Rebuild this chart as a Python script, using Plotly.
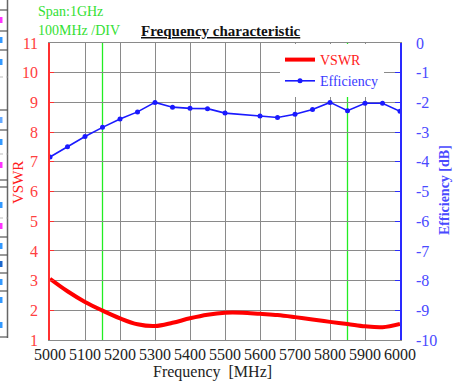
import plotly.graph_objects as go

# ---- data ----
eff_freq = [5000, 5050, 5100, 5150, 5200, 5250, 5300, 5350, 5400, 5450, 5500,
            5600, 5650, 5700, 5750, 5800, 5850, 5900, 5950, 6000]
eff_db = [-3.84, -3.49, -3.15, -2.84, -2.56, -2.32, -2.0, -2.16, -2.2, -2.21, -2.36,
          -2.46, -2.51, -2.40, -2.24, -2.0, -2.28, -2.03, -2.03, -2.3]
vswr_freq = [5000, 5050, 5100, 5150, 5200, 5250, 5300, 5350, 5400, 5450, 5500,
             5550, 5600, 5650, 5700, 5750, 5800, 5850, 5900, 5950, 6000]
vswr = [3.06, 2.64, 2.28, 1.99, 1.73, 1.53, 1.47, 1.58, 1.73, 1.85, 1.92,
        1.92, 1.88, 1.84, 1.77, 1.69, 1.61, 1.54, 1.46, 1.43, 1.54]
marker_freqs = [5150, 5850]
x_ticks = list(range(5000, 6001, 100))
vswr_ticks = list(range(1, 12))
eff_ticks = list(range(-10, 1))

W, H = 465, 385
L, R, T, B = 50, 400, 43, 340


def px(xp):
    return (xp - L) / (R - L)


def py(yp):
    return (B - yp) / (B - T)


SERIF = "Liberation Serif"
RED = "#ff2020"
GREEN = "#33e033"

fig = go.Figure()
fig.add_trace(go.Scatter(
    x=vswr_freq, y=vswr, mode="lines", name="<span style='color:#ff2020'>VSWR</span>",
    line=dict(color="#ff0000", width=4, shape="spline"), yaxis="y"))
fig.add_trace(go.Scatter(
    x=eff_freq, y=eff_db, mode="lines+markers",
    name="<span style='color:#3a3aff'>Efficiency</span>",
    line=dict(color="#1a1aff", width=1.6), marker=dict(size=5, color="#1a1aff"),
    yaxis="y2"))

shapes = []
for f in marker_freqs:
    shapes.append(dict(type="line", xref="x", yref="paper", x0=f, x1=f, y0=0, y1=1,
                       line=dict(color="#22ee22", width=1.3), layer="below"))

# left-edge table fragment
shapes.append(dict(type="line", xref="paper", yref="paper", x0=px(7.5), x1=px(7.5),
                   y0=py(0), y1=py(338), line=dict(color="#666", width=1.5)))
for yl in [10, 31, 50, 110, 130, 180, 187, 237, 255, 273, 291, 337]:
    shapes.append(dict(type="line", xref="paper", yref="paper", x0=px(0), x1=px(7.5),
                       y0=py(yl), y1=py(yl), line=dict(color="#555", width=1.2)))
for yl in [77, 154, 218]:
    shapes.append(dict(type="line", xref="paper", yref="paper", x0=px(0), x1=px(7.5),
                       y0=py(yl), y1=py(yl), line=dict(color="#bbb", width=1, dash="dot")))
frag = [(20, "#ff33ff"), (40, "#3399ff"), (62, "#3399ff"), (120, "#66aaff"),
        (142, "#3399ff"), (165, "#ff33ff"), (205, "#3399ff"), (226, "#ff33ff"),
        (246, "#3399ff"), (264, "#1a66cc"), (282, "#3399ff"), (300, "#3399ff"),
        (325, "#3399ff")]
for yl, c in frag:
    shapes.append(dict(type="rect", xref="paper", yref="paper", x0=px(0), x1=px(2.5),
                       y0=py(yl + 3), y1=py(yl - 3), line=dict(width=0), fillcolor=c))

annotations = [
    dict(text="Span:1GHz", xref="paper", yref="paper", x=px(36), y=py(12),
         xanchor="left", yanchor="middle", showarrow=False,
         font=dict(family=SERIF, size=14, color=GREEN)),
    dict(text="100MHz /DIV", xref="paper", yref="paper", x=px(36), y=py(30),
         xanchor="left", yanchor="middle", showarrow=False,
         font=dict(family=SERIF, size=14, color=GREEN)),
    dict(text="<b><u>Frequency characteristic</u></b>", xref="paper", yref="paper",
         x=px(221), y=py(31), xanchor="center", yanchor="middle", showarrow=False,
         font=dict(family=SERIF, size=15, color="#111")),
    dict(text="VSWR", xref="paper", yref="paper", x=px(18), y=py(183),
         xanchor="center", yanchor="middle", textangle=-90, showarrow=False,
         font=dict(family=SERIF, size=15, color=RED)),
    dict(text="<b>Efficiency [dB]</b>", xref="paper", yref="paper", x=px(444), y=py(190),
         xanchor="center", yanchor="middle", textangle=-90, showarrow=False,
         font=dict(family=SERIF, size=14, color="#4a4aff")),
    dict(text="Frequency  [MHz]", xref="paper", yref="paper", x=px(212), y=py(372),
         xanchor="center", yanchor="middle", showarrow=False,
         font=dict(family=SERIF, size=16, color="#222")),
]

fig.update_layout(
    width=W, height=H,
    margin=dict(l=L, r=W - R, t=T, b=H - B, pad=0),
    paper_bgcolor="white", plot_bgcolor="white",
    showlegend=True,
    legend=dict(x=px(280), y=py(44), xanchor="left", yanchor="top",
                bgcolor="white", borderwidth=0, tracegroupgap=0,
                font=dict(family=SERIF, size=14), itemwidth=30),
    xaxis=dict(range=[5000, 6000], tickvals=x_ticks, ticktext=[str(v) for v in x_ticks],
               tickangle=0, showgrid=True, gridcolor="#8a8a8a", gridwidth=1,
               showline=True, linecolor="#8a8a8a", linewidth=1, mirror="ticks",
               ticks="inside", ticklen=4, tickcolor="#8a8a8a",
               tickfont=dict(family=SERIF, size=16, color="#222"), zeroline=False),
    yaxis=dict(range=[1, 11], tickvals=vswr_ticks, ticktext=[str(v) for v in vswr_ticks],
               showgrid=True, gridcolor="#8a8a8a", gridwidth=1,
               showline=True, linecolor="#ff3030", linewidth=1.5, ticks="inside",
               ticklen=4, tickcolor="#ff3030", ticklabelstandoff=7,
               tickfont=dict(family=SERIF, size=16, color="#ff4040"), zeroline=False),
    yaxis2=dict(range=[-10, 0], tickvals=eff_ticks, ticktext=[str(v) for v in eff_ticks],
                overlaying="y", side="right", showgrid=False,
                showline=True, linecolor="#2a2aff", linewidth=1.5, ticks="inside",
                ticklen=5, tickcolor="#2a2aff", ticklabelstandoff=11,
                tickfont=dict(family=SERIF, size=16, color="#4a4aff"), zeroline=False),
    shapes=shapes, annotations=annotations,
)

fig.write_html("out.html")
